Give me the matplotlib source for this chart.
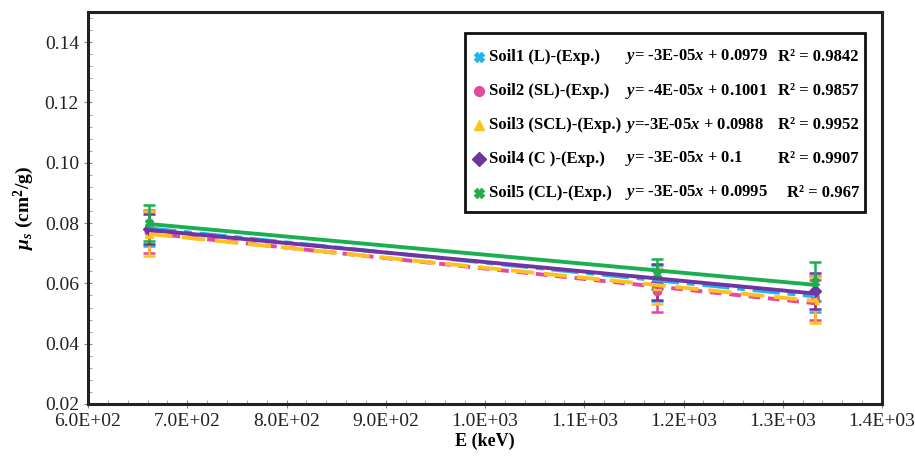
import numpy as np
import matplotlib
matplotlib.use("Agg")
import matplotlib.pyplot as plt
from matplotlib.ticker import MultipleLocator, FuncFormatter
from matplotlib.lines import Line2D
from matplotlib.patches import Rectangle

plt.rcParams['font.family'] = ['Liberation Serif', 'DejaVu Serif']
plt.rcParams['mathtext.fontset'] = 'custom'
plt.rcParams['mathtext.it'] = 'Liberation Serif:italic:bold'
plt.rcParams['mathtext.bf'] = 'Liberation Serif:bold'
plt.rcParams['mathtext.rm'] = 'Liberation Serif'

energies = [661.6, 1173.2, 1332.5]
soil_labels = ["Soil1 (L)-(Exp.)", "Soil2 (SL)-(Exp.)", "Soil3 (SCL)-(Exp.)",
               "Soil4 (C )-(Exp.)", "Soil5 (CL)-(Exp.)"]
soil1 = [0.0785, 0.0600, 0.0565]
soil2 = [0.0770, 0.0575, 0.0545]
soil3 = [0.0765, 0.0590, 0.0545]
soil4 = [0.0780, 0.0605, 0.0575]
soil5 = [0.0800, 0.0630, 0.0605]
err1 = [0.006, 0.006, 0.006]
err2 = [0.007, 0.007, 0.0065]
err3 = [0.0075, 0.006, 0.0075]
err4 = [0.005, 0.006, 0.006]
err5 = [0.006, 0.005, 0.0065]
equations = ["y= -3E-05x + 0.0979", "y= -4E-05x + 0.1001", "y=-3E-05x + 0.0988",
             "y= -3E-05x + 0.1", "y= -3E-05x + 0.0995"]
r2_texts = ["R\u00b2 = 0.9842", "R\u00b2 = 0.9857", "R\u00b2 = 0.9952", "R\u00b2 = 0.9907", "R\u00b2 = 0.967"]

series = [soil1, soil2, soil3, soil4, soil5]
errors = [err1, err2, err3, err4, err5]
colors = ["#1FB4EE", "#E5489C", "#FFC020", "#6F35A5", "#1BAF50"]
markers = ["X", "o", "^", "D", "X"]
linestyles = [(0, (7, 2, 2, 2)), (0, (3, 2)), (0, (6, 2.5)), "-", "-"]

W, H = 915, 461
fig = plt.figure(figsize=(W / 100, H / 100), dpi=100)
ax = fig.add_axes([88 / W, 1 - 404 / H, (882 - 88) / W, (404 - 12) / H])

for s, e, c, m, ls in zip(series, errors, colors, markers, linestyles):
    ax.errorbar(energies, s, yerr=e, fmt=m, color=c, ms=6, ecolor=c,
                elinewidth=1.8, capsize=4, capthick=1.8, zorder=3)
    k, b = np.polyfit(energies, s, 1)
    xs = np.array([energies[0], energies[-1]])
    ax.plot(xs, k * xs + b, color=c, lw=2.8, ls=ls, zorder=4)

ax.set_xlim(600, 1400)
ax.set_ylim(0.02, 0.15)
ax.xaxis.set_major_locator(MultipleLocator(100))
ax.xaxis.set_minor_locator(MultipleLocator(20))
ax.yaxis.set_major_locator(MultipleLocator(0.02))
ax.yaxis.set_minor_locator(MultipleLocator(0.004))
ax.xaxis.set_major_formatter(FuncFormatter(lambda v, p: "%.1E" % v))
ax.yaxis.set_major_formatter(FuncFormatter(lambda v, p: "%.2f" % v if v <= 0.141 else ""))
ax.tick_params(which='major', direction='inout', length=6, width=0.8, colors='#888888',
               labelcolor='#222222', labelsize=14)
ax.tick_params(which='minor', direction='in', length=3, width=0.6, colors='#999999')
for sp in ax.spines.values():
    sp.set_linewidth(2.2)
    sp.set_color('#222222')

ax.set_xlabel("E (keV)", fontsize=13, fontweight='bold', labelpad=2)
ax.set_ylabel(r"$\mathit{\mu_{s}}$ (cm$^{\mathbf{2}}$/g)", fontsize=14, fontweight='bold', labelpad=6)


def fx(px):
    return px / W


def fy(py):
    return 1 - py / H


fig.patches.append(Rectangle((fx(465), fy(212)), fx(865) - fx(465), fy(33) - fy(212),
                             transform=fig.transFigure, fill=True, facecolor='white',
                             edgecolor='#111111', lw=2.0, zorder=10))
rows_y = [57, 91, 125, 159, 193]
for i in range(5):
    y = fy(rows_y[i])
    fig.add_artist(Line2D([fx(479)], [y], marker=markers[i], color=colors[i], ms=7,
                          ls='none', transform=fig.transFigure, zorder=11))
    fig.text(fx(489), y, soil_labels[i], fontsize=12, fontweight='bold', va='center',
             ha='left', zorder=12)
    eq = equations[i].replace("y", "$\\mathit{y}$", 1).replace("05x", "05$\\mathit{x}$")
    fig.text(fx(625), y, eq, fontsize=12, fontweight='bold', va='center', ha='left', zorder=12)
    fig.text(fx(859), y, r2_texts[i], fontsize=12, fontweight='bold', va='center',
             ha='right', zorder=12)

fig.savefig("out.png", dpi=100)
